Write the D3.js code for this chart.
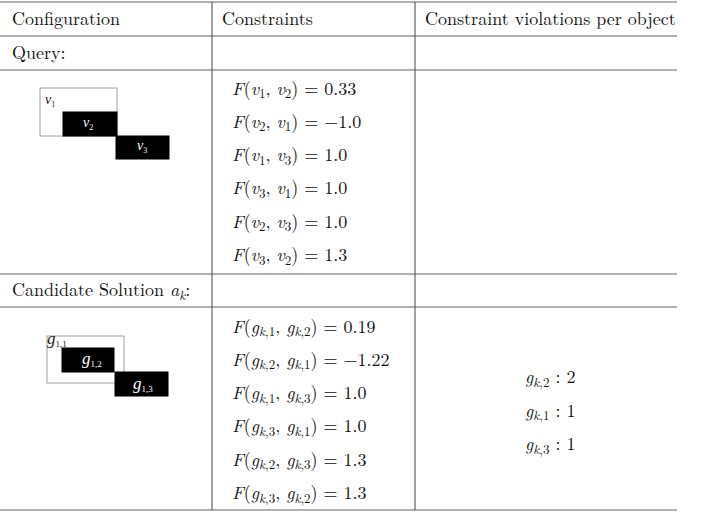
<!DOCTYPE html>
<html lang="en">
<head>
<meta charset="utf-8">
<style>
  body { margin: 0; background: #fff; }
  .hline { stroke: #959595; stroke-width: 1.4; }
  .vline { stroke: #444; stroke-width: 1; }
</style>
</head>
<body>
<script src="https://d3js.org/d3.v7.min.js"></script>
<script>
// table content
var headers = ["Configuration", "Constraints", "Constraint violations per object"];
var sectionLabels = ["Query:", "Candidate Solution "];

var queryPairs = [["1", "2"], ["2", "1"], ["1", "3"], ["3", "1"], ["2", "3"], ["3", "2"]];
var queryValues = ["0.33", "\u22121.0", "1.0", "1.0", "1.0", "1.3"];

var candPairs = [["1", "2"], ["2", "1"], ["1", "3"], ["3", "1"], ["2", "3"], ["3", "2"]];
var candValues = ["0.19", "\u22121.22", "1.0", "1.0", "1.3", "1.3"];

var violObjects = ["2", "1", "3"];
var violCounts = ["2", "1", "1"];

var FONT = "'Latin Modern Roman', 'Liberation Serif', serif";
var SMALL = "'Liberation Serif', serif";
var FS = 18, SUB = 13, SH = 3.5;
var W = 706, H = 513, right = 677;
var svg = d3.select("body").append("svg")
    .attr("width", W).attr("height", H);

// column and row rules
var colX = [212, 415];
var rowY = [2, 36, 70, 274, 307, 510];

svg.selectAll("line.hline").data(rowY).enter().append("line")
    .attr("class", "hline")
    .attr("x1", 0).attr("x2", right)
    .attr("y1", function(d){ return d; }).attr("y2", function(d){ return d; });

svg.selectAll("line.vline").data(colX).enter().append("line")
    .attr("class", "vline")
    .attr("x1", function(d){ return d; }).attr("x2", function(d){ return d; })
    .attr("y1", rowY[0]).attr("y2", rowY[rowY.length - 1]);

function txt(x, y, size){
  return svg.append("text").attr("x", x).attr("y", y)
      .style("font-family", FONT).style("font-size", size + "px").attr("fill", "#111");
}

// header
var headX = [12, 222, 425];
headers.forEach(function(h, i){
  txt(headX[i], 25, FS).text(h);
});

txt(12, 59, FS).text(sectionLabels[0]);
var cs = txt(12, 296, FS);
cs.append("tspan").text(sectionLabels[1]);
cs.append("tspan").style("font-style", "italic").text("a");
cs.append("tspan").attr("dy", SH).style("font-size", SUB + "px").style("font-style", "italic").text("k");
cs.append("tspan").attr("dy", -SH).text(":");

// math helper: symbol with subscript; the next tspan must undo the shift
function sym(t, name, sub, kSub){
  t.append("tspan").style("font-style", "italic").text(name);
  if (kSub){
    t.append("tspan").attr("dy", SH).style("font-size", SUB + "px").style("font-style", "italic").text("k");
    t.append("tspan").style("font-size", SUB + "px").text("," + sub);
  } else {
    t.append("tspan").attr("dy", SH).style("font-size", SUB + "px").text(sub);
  }
}

function constraintRows(pairs, values, y0, y1, name, kSub){
  var y = d3.scalePoint().domain(d3.range(pairs.length)).range([y0, y1]);
  pairs.forEach(function(p, i){
    var t = txt(232, y(i), FS);
    t.append("tspan").style("font-style", "italic").text("F");
    t.append("tspan").text("(");
    sym(t, name, p[0], kSub);
    t.append("tspan").attr("dy", -SH).text(", ");
    sym(t, name, p[1], kSub);
    t.append("tspan").attr("dy", -SH).text(") = " + values[i]);
  });
}

constraintRows(queryPairs, queryValues, 94.5, 261, "v", false);
constraintRows(candPairs, candValues, 332.5, 499, "g", true);

// violations column
var vy = d3.scalePoint().domain(d3.range(violObjects.length)).range([383, 450]);
violObjects.forEach(function(o, i){
  var t = txt(525, vy(i), FS);
  sym(t, "g", o, true);
  t.append("tspan").attr("dy", -SH).text(" : " + violCounts[i]);
});

// configuration sketches
var qBoxes = [
  {x: 40, y: 88, w: 77, h: 48, fill: "none", label: "v", sub: "1", lx: 45, ly: 104, fs: 14, ss: 8},
  {x: 63, y: 112, w: 54, h: 24, fill: "#000", label: "v", sub: "2", lx: 83, ly: 127, fs: 14, ss: 8},
  {x: 116, y: 136, w: 53, h: 23, fill: "#000", label: "v", sub: "3", lx: 137, ly: 150, fs: 14, ss: 8}
];
var cBoxes = [
  {x: 47, y: 336, w: 77, h: 47, fill: "none", label: "g", sub: "1,1", lx: 47, ly: 344, fs: 17, ss: 9},
  {x: 62, y: 348, w: 52, h: 24, fill: "#000", label: "g", sub: "1,2", lx: 82, ly: 364, fs: 17, ss: 9},
  {x: 115, y: 372, w: 53, h: 24, fill: "#000", label: "g", sub: "1,3", lx: 133, ly: 389, fs: 17, ss: 9}
];

function drawBoxes(boxes){
  var g = svg.append("g");
  g.selectAll("rect").data(boxes).enter().append("rect")
      .attr("x", function(d){ return d.x; }).attr("y", function(d){ return d.y; })
      .attr("width", function(d){ return d.w; }).attr("height", function(d){ return d.h; })
      .attr("fill", function(d){ return d.fill; })
      .attr("stroke", function(d){ return d.fill === "none" ? "#a0a0a0" : "#000"; })
      .attr("stroke-width", 1);
  var lab = g.selectAll("text").data(boxes).enter().append("text")
      .attr("x", function(d){ return d.lx; }).attr("y", function(d){ return d.ly; })
      .style("font-family", SMALL).style("font-size", function(d){ return d.fs + "px"; })
      .attr("fill", function(d){ return d.fill === "none" ? "#222" : "#fff"; });
  lab.append("tspan").style("font-style", "italic").text(function(d){ return d.label; });
  lab.append("tspan").attr("dy", 3).style("font-size", function(d){ return d.ss + "px"; })
      .text(function(d){ return d.sub; });
}
drawBoxes(qBoxes);
drawBoxes(cBoxes);
</script>
</body>
</html>
